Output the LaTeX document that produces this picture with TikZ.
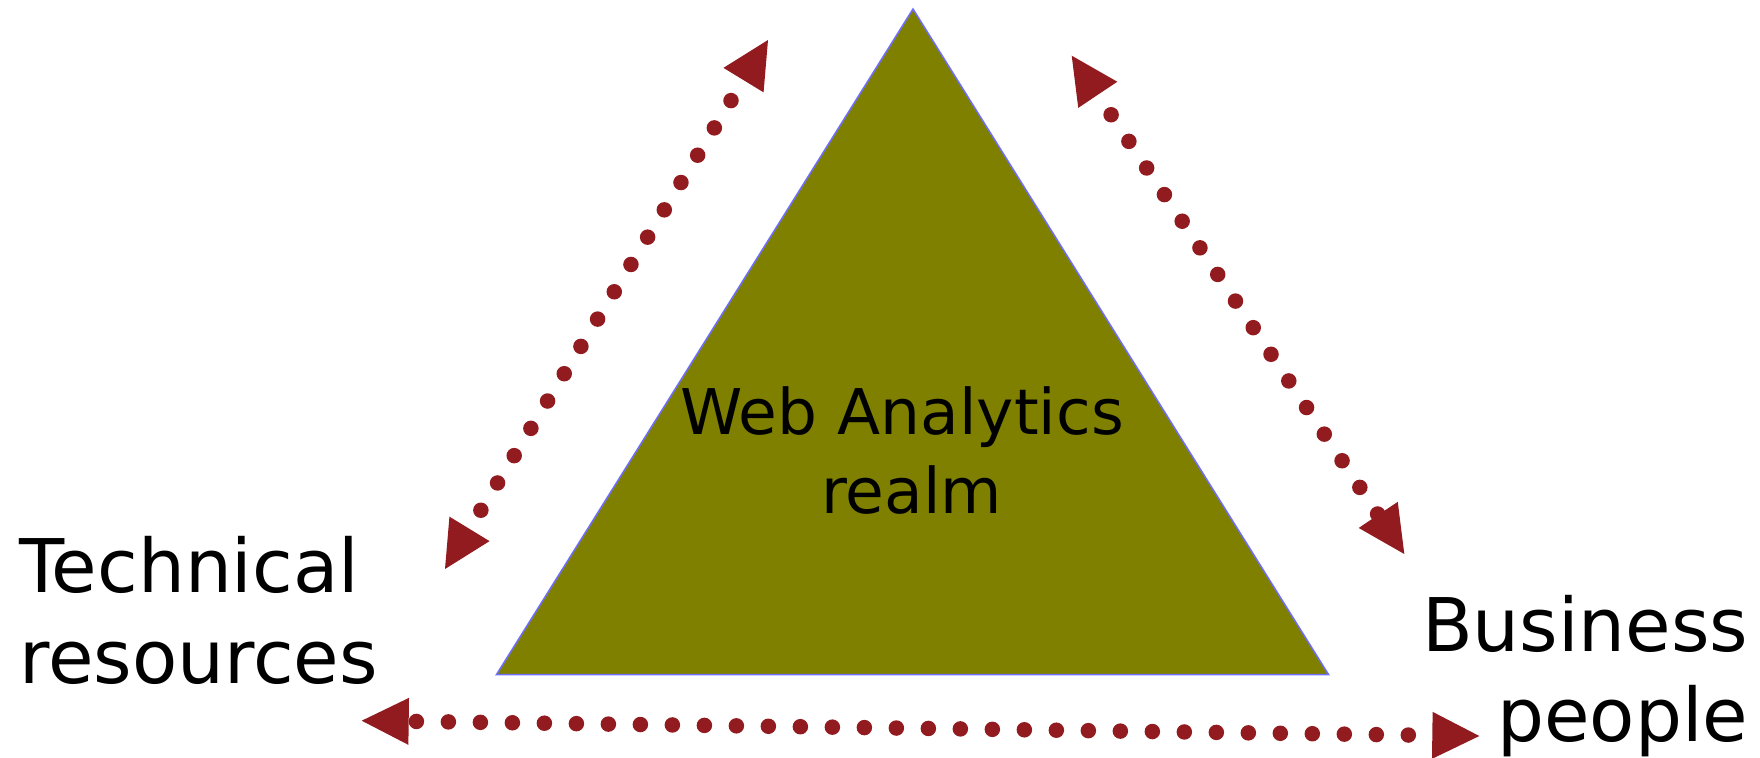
\documentclass[tikz,border=0pt]{standalone}
\usepackage{fontspec}
\setmainfont{DejaVu Sans}
\usetikzlibrary{arrows.meta}
\definecolor{realmolive}{RGB}{128,128,0}
\definecolor{realmedge}{RGB}{110,110,255}
\definecolor{linkred}{RGB}{146,27,31}

\begin{document}
\begin{tikzpicture}[x=1pt,y=-1pt,
  dotlink/.style={draw=linkred, line width=15.5pt, line cap=round,
    dash pattern=on 0pt off 32pt, dash phase=8pt,
    {Triangle[length=47pt,width=47pt,line width=0pt]}-{Triangle[length=47pt,width=47pt,line width=0pt]}},
  sidelabel/.style={inner sep=0pt, font=\fontsize{74}{90.5}\selectfont},
  realmlabel/.style={inner sep=0pt, font=\fontsize{63}{79}\selectfont, align=center}
]
\useasboundingbox (0,0) rectangle (1760,757);

% the central triangle
\draw[fill=realmolive, draw=realmedge, line width=1.5pt]
  (913,9) -- (1328.5,674.5) -- (496.5,674.5) -- cycle;
% multi-line nodes sit on the baseline of their last line
\node[realmlabel, anchor=base] (realm) at (911.5,513.3) {Web Analytics\kern0.3em\\realm};

% the two parties
\node[sidelabel, align=left, anchor=base west] (tech) at (19,683.3) {Technical\\resources};
\node[sidelabel, align=right, anchor=base east] (biz) at (1748.5,741.7) {Business\\people};

% end points of the dotted two-way links
\coordinate (lt) at (768,40);
\coordinate (lb) at (445,569);
\coordinate (rt) at (1071.7,55.7);
\coordinate (rb) at (1404.3,554);
\coordinate (br) at (1479.3,736);
\coordinate (bl) at (361.7,720.7);

\draw[dotlink] (lt) -- (lb);
\draw[dotlink] (rt) -- (rb);
\draw[dotlink] (br) -- (bl);
\end{tikzpicture}
\end{document}
